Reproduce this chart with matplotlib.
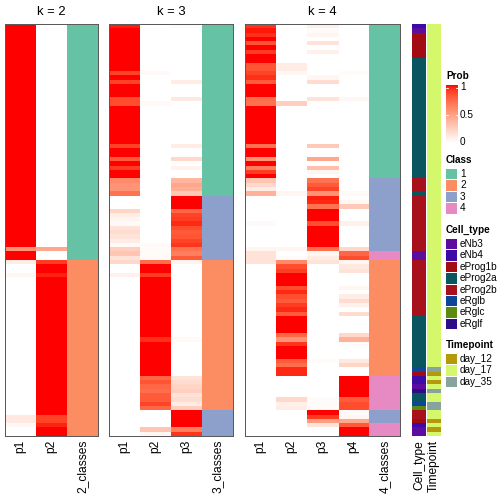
import numpy as np
import matplotlib
matplotlib.use("Agg")
import matplotlib.pyplot as plt
from matplotlib.colors import ListedColormap, to_rgb
from matplotlib.patches import Rectangle

plt.rcParams['font.family'] = ['Liberation Sans', 'DejaVu Sans']

# ---- membership probabilities, one value per sample (96 samples, top to bottom)
k2_p1 = [1, 1, 1, 1, 1, 1, 1, 1, 1, 1, 1, 1,
         1, 1, 1, 1, 1, 1, 1, 1, 1, 1, 1, 1,
         1, 1, 1, 1, 1, 1, 1, 1, 1, 1, 1, 1,
         1, 1, 1, 1, 1, 1, 1, 1, 1, 1, 1, 1,
         1, 1, 1, 1, 0.55, 1, 1, 0.1, 0, 0, 0.04, 0,
         0, 0, 0, 0, 0, 0, 0, 0, 0, 0, 0, 0,
         0, 0, 0, 0, 0, 0, 0, 0, 0, 0, 0, 0,
         0, 0, 0, 0, 0, 0, 0, 0.12, 0.12, 0.04, 0, 0]
k2_p2 = [0, 0, 0, 0, 0, 0, 0, 0, 0, 0, 0, 0,
         0, 0, 0, 0, 0, 0, 0, 0, 0, 0, 0, 0,
         0, 0, 0, 0, 0, 0, 0, 0, 0, 0, 0, 0,
         0, 0, 0, 0, 0, 0, 0, 0, 0, 0, 0, 0,
         0, 0, 0, 0, 0.45, 0, 0, 0.9, 1, 1, 0.96, 1,
         1, 1, 1, 1, 1, 1, 1, 1, 1, 1, 1, 1,
         1, 1, 1, 1, 1, 1, 1, 1, 1, 1, 1, 1,
         1, 1, 1, 1, 1, 1, 1, 0.88, 0.88, 0.96, 1, 1]
k2_class = [1, 1, 1, 1, 1, 1, 1, 1, 1, 1, 1, 1,
            1, 1, 1, 1, 1, 1, 1, 1, 1, 1, 1, 1,
            1, 1, 1, 1, 1, 1, 1, 1, 1, 1, 1, 1,
            1, 1, 1, 1, 1, 1, 1, 1, 1, 1, 1, 1,
            1, 1, 1, 1, 1, 1, 1, 2, 2, 2, 2, 2,
            2, 2, 2, 2, 2, 2, 2, 2, 2, 2, 2, 2,
            2, 2, 2, 2, 2, 2, 2, 2, 2, 2, 2, 2,
            2, 2, 2, 2, 2, 2, 2, 2, 2, 2, 2, 2]

k3_p1 = [0.97, 1, 1, 1, 1, 1, 1, 1, 1, 1, 1, 0.88,
         1, 0.88, 1, 1, 1, 0.85, 0.85, 1, 1, 1, 1, 1,
         1, 1, 1, 1, 0.88, 1, 1, 0.8, 1, 0.9, 1, 1,
         0.6, 0.55, 0.55, 0.7, 0, 0, 0, 0.22, 0.1, 0.05, 0.03, 0.15,
         0.18, 0.15, 0.1, 0.03, 0.25, 0.3, 0.15, 0.2, 0, 0, 0.07, 0,
         0, 0, 0, 0, 0, 0, 0, 0, 0, 0, 0, 0,
         0, 0, 0, 0, 0, 0, 0, 0, 0, 0, 0, 0,
         0, 0, 0, 0, 0, 0, 0, 0, 0, 0, 0, 0]
k3_p2 = [0, 0, 0, 0, 0, 0, 0, 0, 0, 0, 0, 0.03,
         0, 0, 0, 0, 0, 0, 0.03, 0, 0, 0, 0, 0,
         0, 0, 0, 0, 0, 0, 0, 0, 0, 0, 0, 0,
         0, 0, 0, 0, 0, 0, 0, 0, 0, 0, 0, 0,
         0, 0, 0, 0.03, 0.02, 0.02, 0.03, 0.72, 1, 1, 0.9, 1,
         1, 1, 1, 1, 1, 1, 1, 1, 1, 1, 1, 1,
         1, 0.93, 1, 1, 1, 1, 1, 1, 1, 1, 0.75, 0.82,
         0.75, 0.72, 0.8, 0.8, 0.88, 0.75, 0, 0, 0, 0, 0.3, 0.05]
k3_p3 = [0.03, 0, 0, 0, 0, 0, 0, 0, 0, 0, 0, 0,
         0, 0.1, 0, 0, 0, 0.12, 0, 0, 0, 0, 0, 0,
         0, 0, 0, 0, 0.1, 0, 0, 0.2, 0, 0.06, 0, 0,
         0.38, 0.45, 0.42, 0.28, 1, 1, 1, 0.75, 0.88, 0.9, 0.95, 0.85,
         0.8, 0.82, 0.88, 0.92, 0.7, 0.65, 0.8, 0.06, 0, 0, 0, 0,
         0, 0, 0, 0, 0, 0, 0, 0, 0, 0, 0, 0,
         0, 0.03, 0, 0, 0, 0, 0, 0, 0, 0, 0.15, 0.18,
         0.22, 0.25, 0.15, 0.18, 0.1, 0.25, 1, 1, 1, 1, 0.65, 0.92]
k3_class = [1, 1, 1, 1, 1, 1, 1, 1, 1, 1, 1, 1,
            1, 1, 1, 1, 1, 1, 1, 1, 1, 1, 1, 1,
            1, 1, 1, 1, 1, 1, 1, 1, 1, 1, 1, 1,
            1, 1, 1, 1, 3, 3, 3, 3, 3, 3, 3, 3,
            3, 3, 3, 3, 3, 3, 3, 2, 2, 2, 2, 2,
            2, 2, 2, 2, 2, 2, 2, 2, 2, 2, 2, 2,
            2, 2, 2, 2, 2, 2, 2, 2, 2, 2, 2, 2,
            2, 2, 2, 2, 2, 2, 3, 3, 3, 3, 3, 3]

k4_p1 = [0.92, 0.98, 0.93, 1, 0.83, 1, 0.9, 1, 1, 0.82, 0.82, 0.88,
         0.93, 0.8, 1, 1, 1, 0.72, 0.7, 1, 1, 1, 1, 1,
         1, 1, 1, 1, 0.7, 1, 1, 0.55, 1, 0.65, 0.9, 1,
         0.3, 0.2, 0.1, 0.4, 0, 0, 0, 0, 0, 0, 0.03, 0,
         0, 0, 0, 0, 0.05, 0.15, 0.15, 0.15, 0, 0, 0, 0,
         0, 0, 0, 0, 0, 0, 0, 0, 0, 0, 0, 0,
         0, 0, 0, 0, 0, 0, 0, 0, 0, 0, 0, 0,
         0, 0, 0, 0, 0, 0, 0, 0, 0, 0, 0, 0]
k4_p2 = [0, 0, 0, 0, 0, 0, 0, 0, 0, 0.1, 0.1, 0.04,
         0, 0, 0, 0, 0, 0, 0.25, 0, 0, 0, 0, 0,
         0, 0, 0, 0, 0, 0, 0, 0, 0, 0, 0, 0,
         0, 0, 0, 0.05, 0, 0, 0, 0, 0, 0, 0, 0,
         0, 0, 0, 0, 0.05, 0, 0.02, 0.6, 0.85, 0.9, 1, 1,
         1, 0.85, 0.95, 0.85, 0.8, 0.9, 0.95, 0.8, 1, 1, 1, 1,
         0.75, 0.55, 0.92, 1, 1, 1, 0.8, 0.72, 0.95, 0.95, 0, 0,
         0, 0, 0, 0.2, 0.08, 0.1, 0, 0, 0, 0, 0, 0]
k4_p3 = [0.08, 0.02, 0.05, 0, 0.15, 0, 0.08, 0, 0, 0, 0, 0,
         0.05, 0.18, 0, 0, 0, 0.15, 0, 0, 0, 0, 0, 0,
         0, 0, 0, 0, 0.28, 0, 0, 0.45, 0, 0.33, 0.05, 0,
         0.7, 0.8, 0.88, 0.55, 0.97, 0.95, 0.7, 1, 1, 1, 0.85, 1,
         1, 1, 1, 1, 0.72, 0.05, 0.1, 0.15, 0, 0, 0, 0,
         0, 0, 0, 0, 0, 0, 0, 0, 0, 0, 0, 0,
         0, 0, 0, 0, 0, 0, 0.02, 0, 0, 0, 0, 0,
         0, 0, 0, 0.02, 0.02, 0.02, 1, 0.9, 0.5, 0.15, 0, 0]
k4_p4 = [0, 0, 0, 0, 0, 0, 0, 0, 0, 0, 0, 0.02,
         0, 0, 0, 0, 0, 0.04, 0, 0, 0, 0, 0, 0,
         0, 0, 0, 0, 0, 0, 0, 0, 0, 0, 0, 0,
         0, 0, 0, 0.03, 0, 0.04, 0.28, 0, 0, 0, 0.08, 0,
         0, 0, 0, 0, 0.2, 0.75, 0.85, 0.05, 0.12, 0.15, 0, 0,
         0, 0.05, 0, 0.1, 0.18, 0.08, 0, 0.18, 0, 0, 0, 0,
         0.2, 0.4, 0.02, 0, 0, 0, 0.12, 0.22, 0, 0, 1, 1,
         1, 1, 1, 0.8, 0.85, 0.85, 0.02, 0.05, 0.45, 0.8, 1, 1]
k4_class = [1, 1, 1, 1, 1, 1, 1, 1, 1, 1, 1, 1,
            1, 1, 1, 1, 1, 1, 1, 1, 1, 1, 1, 1,
            1, 1, 1, 1, 1, 1, 1, 1, 1, 1, 1, 1,
            3, 3, 3, 3, 3, 3, 3, 3, 3, 3, 3, 3,
            3, 3, 3, 3, 3, 4, 4, 2, 2, 2, 2, 2,
            2, 2, 2, 2, 2, 2, 2, 2, 2, 2, 2, 2,
            2, 2, 2, 2, 2, 2, 2, 2, 2, 2, 4, 4,
            4, 4, 4, 4, 4, 4, 3, 3, 3, 4, 4, 4]

cell_type = ["eNb4", "eNb3", "eProg1b", "eProg1b", "eProg1b", "eProg1b",
             "eProg1b", "eProg1b", "eProg2a", "eProg2a", "eProg2a", "eProg2a",
             "eProg2a", "eProg2a", "eProg2a", "eProg2a", "eProg2a", "eProg2a",
             "eProg2a", "eProg2a", "eProg2a", "eProg2a", "eProg2a", "eProg2a",
             "eProg2a", "eProg2a", "eProg2a", "eProg2a", "eProg2a", "eProg2a",
             "eProg2a", "eProg2a", "eProg2a", "eProg2a", "eProg2a", "eProg2a",
             "eProg2b", "eProg2b", "eProg2b", "eProg2a", "eProg2b", "eProg2b",
             "eProg2b", "eProg2b", "eProg2b", "eProg2b", "eProg2b", "eProg2b",
             "eProg2b", "eProg2b", "eProg2b", "eProg2b", "eProg2b", "eNb3",
             "eNb3", "eProg2b", "eProg2b", "eProg2b", "eProg2b", "eProg2b",
             "eProg2b", "eProg2b", "eProg2b", "eProg2b", "eProg2b", "eProg2b",
             "eProg2b", "eProg2b", "eProg2a", "eProg2a", "eProg2a", "eProg2a",
             "eProg2a", "eProg2a", "eProg2a", "eProg2a", "eProg2a", "eProg2a",
             "eProg2a", "eProg2a", "eRglb", "eProg1b", "eNb4", "eNb4",
             "eNb3", "eRglf", "eProg2a", "eProg2a", "eRglb", "eRglc",
             "eProg2b", "eProg2b", "eProg1b", "eNb4", "eNb3", "eNb3"]
timepoint = [
    "day_17", "day_17", "day_17", "day_17", "day_17", "day_17", "day_17", "day_17",
    "day_17", "day_17", "day_17", "day_17", "day_17", "day_17", "day_17", "day_17",
    "day_17", "day_17", "day_17", "day_17", "day_17", "day_17", "day_17", "day_17",
    "day_17", "day_17", "day_17", "day_17", "day_17", "day_17", "day_17", "day_17",
    "day_17", "day_17", "day_17", "day_17", "day_17", "day_17", "day_17", "day_17",
    "day_17", "day_17", "day_17", "day_17", "day_17", "day_17", "day_17", "day_17",
    "day_17", "day_17", "day_17", "day_17", "day_17", "day_17", "day_17", "day_17",
    "day_17", "day_17", "day_17", "day_17", "day_17", "day_17", "day_17", "day_17",
    "day_17", "day_17", "day_17", "day_17", "day_17", "day_17", "day_17", "day_17",
    "day_17", "day_17", "day_17", "day_17", "day_17", "day_17", "day_17", "day_17",
    "day_35", "day_12", "day_17", "day_12", "day_17", "day_35", "day_17", "day_17",
    "day_35", "day_35", "day_17", "day_17", "day_12", "day_17", "day_12", "day_17"]

class_levels = ["1", "2", "3", "4"]
class_colors = {1: "#66C2A5", 2: "#FC8D62", 3: "#8DA0CB", 4: "#E78AC3"}
cell_levels = ["eNb3", "eNb4", "eProg1b", "eProg2a", "eProg2b", "eRglb", "eRglc", "eRglf"]
cell_colors = {"eNb3": "#5C0C9E", "eNb4": "#3C0BA6", "eProg1b": "#A30B12",
               "eProg2a": "#0A5660", "eProg2b": "#A6111B", "eRglb": "#0D4597",
               "eRglc": "#5A8A10", "eRglf": "#2E0C87"}
time_levels = ["day_12", "day_17", "day_35"]
time_colors = {"day_12": "#B49A0A", "day_17": "#D4F76C", "day_35": "#86A39D"}


# white -> red ramp interpolated in LAB space
def _to_lab(rgb):
    c = np.asarray(rgb, float)
    c = np.where(c <= 0.04045, c / 12.92, ((c + 0.055) / 1.055) ** 2.4)
    M = np.array([[0.4124, 0.3576, 0.1805], [0.2126, 0.7152, 0.0722], [0.0193, 0.1192, 0.9505]])
    xyz = M @ c / np.array([0.95047, 1.0, 1.08883])
    d = 6 / 29
    f = np.where(xyz > d ** 3, np.cbrt(xyz), xyz / (3 * d * d) + 4 / 29)
    return np.array([116 * f[1] - 16, 500 * (f[0] - f[1]), 200 * (f[1] - f[2])])


def _from_lab(lab):
    L, a, b = lab
    fy = (L + 16) / 116
    fx = fy + a / 500
    fz = fy - b / 200
    d = 6 / 29
    f = np.array([fx, fy, fz])
    xyz = np.where(f > d, f ** 3, 3 * d * d * (f - 4 / 29)) * np.array([0.95047, 1.0, 1.08883])
    Mi = np.array([[3.2406, -1.5372, -0.4986], [-0.9689, 1.8758, 0.0415], [0.0557, -0.2040, 1.0570]])
    c = Mi @ xyz
    c = np.where(c <= 0.0031308, 12.92 * c, 1.055 * np.power(np.clip(c, 0, None), 1 / 2.4) - 0.055)
    return np.clip(c, 0, 1)


lab_w, lab_r = _to_lab((1, 1, 1)), _to_lab((1, 0, 0))
prob_cmap = ListedColormap([_from_lab(lab_w + t * (lab_r - lab_w)) for t in np.linspace(0, 1, 256)])

W = H = 504
TOP, BOT = 24, 436
COLW = 31
N = len(k2_p1)

fig = plt.figure(figsize=(7, 7), dpi=72)


def px_axes(x0, x1):
    return fig.add_axes([x0 / W, 1 - BOT / H, (x1 - x0) / W, (BOT - TOP) / H])


def draw_panel(x0, probs, classes, title):
    ncol = len(probs) + 1
    ax = px_axes(x0, x0 + ncol * COLW)
    mat = np.column_stack(probs)
    ax.imshow(mat, cmap=prob_cmap, vmin=0, vmax=1, aspect='auto',
              interpolation='nearest', extent=(0, ncol - 1, N, 0))
    rgb = np.array([to_rgb(class_colors[c]) for c in classes])[:, None, :]
    ax.imshow(rgb, aspect='auto', interpolation='nearest', extent=(ncol - 1, ncol, N, 0))
    ax.set_xlim(0, ncol)
    ax.set_ylim(N, 0)
    names = [f"p{i + 1}" for i in range(ncol - 1)] + [f"{ncol - 1}_classes"]
    ax.set_xticks(np.arange(ncol) + 0.5)
    ax.set_xticklabels(names, rotation=90, fontsize=12)
    ax.tick_params(length=0, pad=4)
    ax.set_yticks([])
    for s in ax.spines.values():
        s.set_color('#5a5a5a')
        s.set_linewidth(1)
    ax.set_title(title, fontsize=13, pad=9)


draw_panel(5, [k2_p1, k2_p2], k2_class, "k = 2")
draw_panel(109, [k3_p1, k3_p2, k3_p3], k3_class, "k = 3")
draw_panel(245, [k4_p1, k4_p2, k4_p3, k4_p4], k4_class, "k = 4")

# sample annotations
for x0, x1, vals, cmap, label in [(412, 426, cell_type, cell_colors, "Cell_type"),
                                  (427, 441, timepoint, time_colors, "Timepoint")]:
    ax = px_axes(x0, x1)
    rgb = np.array([to_rgb(cmap[v]) for v in vals])[:, None, :]
    ax.imshow(rgb, aspect='auto', interpolation='nearest', extent=(0, 1, N, 0))
    ax.set_xlim(0, 1)
    ax.set_ylim(N, 0)
    ax.set_xticks([0.5])
    ax.set_xticklabels([label], rotation=90, fontsize=12)
    ax.tick_params(length=0, pad=4)
    ax.set_yticks([])
    for s in ax.spines.values():
        s.set_visible(False)

# legends
lg = fig.add_axes([0, 0, 1, 1])
lg.set_xlim(0, W)
lg.set_ylim(H, 0)
lg.axis('off')
LX = 446
lg.text(LX, 76, "Prob", fontsize=10, fontweight='bold', va='center')
grad = np.linspace(1, 0, 200)[:, None]
lg.imshow(grad, cmap=prob_cmap, vmin=0, vmax=1, aspect='auto', extent=(LX, LX + 12, 143, 85))
for yy, lab in [(87.5, "1"), (115, "0.5"), (142, "0")]:
    lg.text(LX + 14, yy, lab, fontsize=10, va='center')
    if lab != "0":
        lg.plot([LX, LX + 2], [yy, yy], color='white', lw=0.8)
        lg.plot([LX + 10, LX + 12], [yy, yy], color='white', lw=0.8)

STEP = 11.4


def legend_block(title, ty, labels, colors):
    lg.text(LX, ty, title, fontsize=10, fontweight='bold', va='center')
    for i, (lab, col) in enumerate(zip(labels, colors)):
        yc = ty + 14 + i * STEP
        lg.add_patch(Rectangle((LX, yc - 5), 11, 10.4, facecolor=col, edgecolor='none'))
        lg.text(LX + 14, yc, lab, fontsize=10, va='center')


legend_block("Class", 160, class_levels, [class_colors[int(c)] for c in class_levels])
legend_block("Cell_type", 230, cell_levels, [cell_colors[c] for c in cell_levels])
legend_block("Timepoint", 345, time_levels, [time_colors[t] for t in time_levels])
lg.set_xlim(0, W)
lg.set_ylim(H, 0)

fig.savefig("out.png", dpi=72)
